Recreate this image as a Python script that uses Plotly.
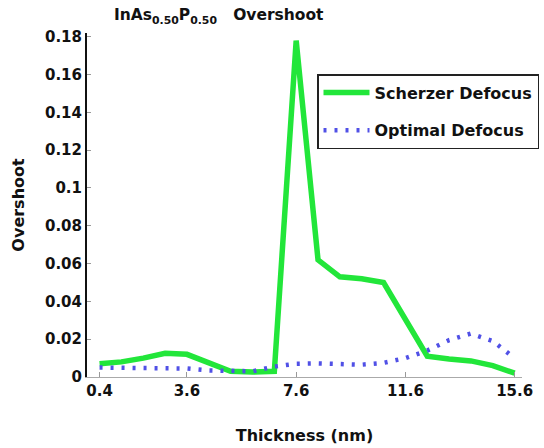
import plotly.graph_objects as go

thickness = [0.4, 1.2, 2.0, 2.8, 3.6, 4.4, 5.2, 6.0, 6.8, 7.6, 8.4, 9.2, 10.0, 10.8, 11.6, 12.4, 13.2, 14.0, 14.8, 15.6]
scherzer = [0.007, 0.008, 0.010, 0.0125, 0.012, 0.0077, 0.003, 0.0026, 0.003, 0.178, 0.062, 0.053, 0.052, 0.050, 0.030, 0.011, 0.0095, 0.0085, 0.006, 0.002]
optimal = [0.005, 0.005, 0.005, 0.005, 0.0045, 0.0035, 0.003, 0.003, 0.0055, 0.007, 0.0072, 0.007, 0.0065, 0.0075, 0.010, 0.014, 0.0195, 0.023, 0.019, 0.010]
xticks = [0.4, 3.6, 7.6, 11.6, 15.6]
yticks = [0, 0.02, 0.04, 0.06, 0.08, 0.1, 0.12, 0.14, 0.16, 0.18]
ytick_text = ["0", "0.02", "0.04", "0.06", "0.08", "0.1", "0.12", "0.14", "0.16", "0.18"]

FONT = "DejaVu Sans"

fig = go.Figure()
fig.add_trace(go.Scatter(x=thickness, y=scherzer, mode="lines", name="<b>Scherzer Defocus</b>",
                         line=dict(color="#22e63a", width=5.5), legendgroup="a"))
fig.add_trace(go.Scatter(x=thickness, y=optimal, mode="lines", name="<b>Optimal Defocus</b>",
                         line=dict(color="#5050e6", width=4.5, dash="3px,8px"), legendgroup="b"))

fig.update_layout(
    width=544, height=448,
    margin=dict(l=87, r=22, t=33, b=71, autoexpand=False),
    plot_bgcolor="white", paper_bgcolor="white",
    font=dict(family=FONT, size=15, color="#111"),
    title=dict(text="<b>InAs<sub>0.50</sub>P<sub>0.50</sub>   Overshoot</b>", xref="container", yref="container",
               x=114/544, xanchor="left", y=1-15/448, yanchor="middle", font=dict(size=15.5)),
    showlegend=True,
    legend=dict(x=(317-87)/435, xanchor="left", y=(377-74)/344, yanchor="top",
                bordercolor="#222", borderwidth=1.5, bgcolor="white",
                font=dict(family=FONT, size=16, color="#111"),
                traceorder="grouped", tracegroupgap=14, itemwidth=46),
    xaxis=dict(range=[-0.06, 15.87], tickvals=xticks, ticktext=[f"<b>{v}</b>" for v in xticks],
               showgrid=False, zeroline=False, showline=True, linecolor="#aaa", linewidth=1,
               ticks="inside", ticklen=5, tickcolor="#999",
               tickfont=dict(size=15),
               title=dict(text="<b>Thickness (nm)</b>", font=dict(size=16), standoff=30)),
    yaxis=dict(range=[0, 0.182], tickvals=yticks, ticktext=[f"<b>{t}</b>" for t in ytick_text],
               showgrid=False, zeroline=False, showline=True, linecolor="#111", linewidth=2,
               ticks="inside", ticklen=4, tickcolor="#999",
               tickfont=dict(size=15),
               title=dict(text="<b>Overshoot</b>", font=dict(size=16), standoff=16)),
)

fig.write_html("out.html")
